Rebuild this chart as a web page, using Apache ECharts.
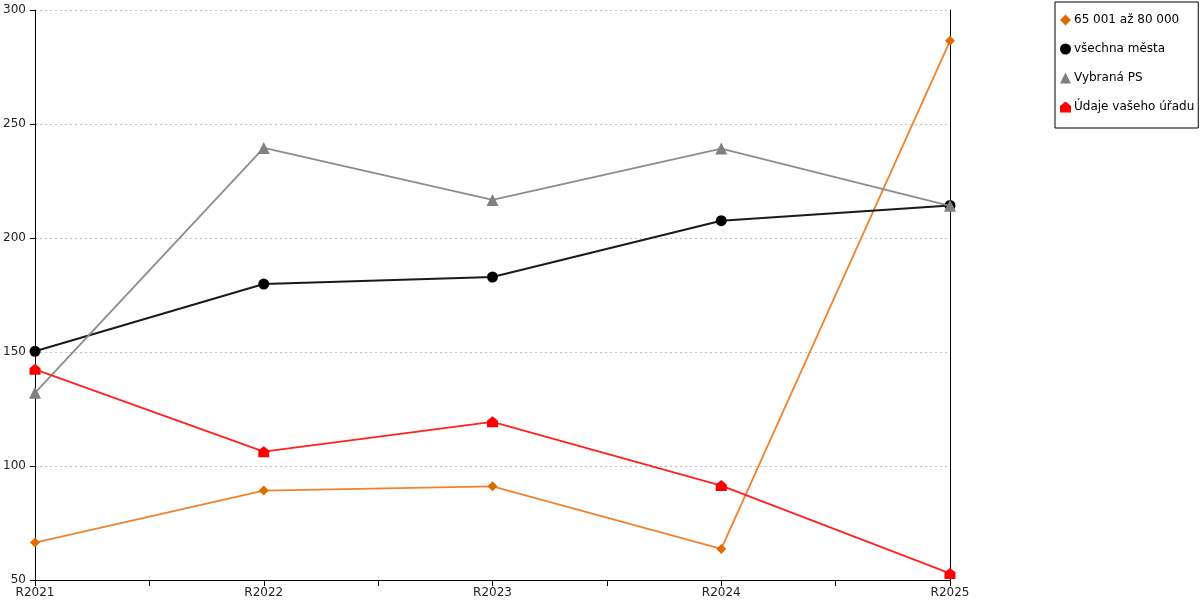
<!DOCTYPE html>
<html>
<head>
<meta charset="utf-8">
<script src="https://cdn.jsdelivr.net/npm/echarts@6/dist/echarts.min.js"></script>
<style>html,body{margin:0;padding:0;background:#fff}#c{width:1200px;height:600px}</style>
</head>
<body>
<div id="c"></div>
<script>
const categories = ['R2021', 'R2022', 'R2023', 'R2024', 'R2025'];
const yTicks = [50, 100, 150, 200, 250, 300];
const seriesNames = ['65 001 až 80 000', 'všechna města', 'Vybraná PS', 'Údaje vašeho úřadu'];
const orangeValues = [66.4, 89.2, 91.1, 63.6, 286.5];
const blackValues = [150.3, 179.8, 182.9, 207.6, 214.3];
const greyValues = [132.1, 239.5, 216.7, 239.2, 214.1];
const redValues = [142.4, 106.3, 119.4, 91.4, 52.9];

const FONT = 'DejaVu Sans';
const house = 'path://M0,4 L5,0 L10,4 L10,10 L0,10 Z';
const toPts = vals => vals.map((v, i) => [i, v]);

const defs = [
  {name: seriesNames[0], data: orangeValues, line: '#F0822D', mark: '#E06C00', symbol: 'diamond', size: 10, w: 1.8, z: 2},
  {name: seriesNames[1], data: blackValues, line: '#1a1a1a', mark: '#000000', symbol: 'circle', size: 11, w: 2, z: 3},
  {name: seriesNames[2], data: greyValues, line: '#8c8c8c', mark: '#808080', symbol: 'triangle', size: 12, w: 1.8, z: 4},
  {name: seriesNames[3], data: redValues, line: '#FF2020', mark: '#FF0000', symbol: house, size: 11, w: 1.8, z: 5}
];

const chart = echarts.init(document.getElementById('c'));
chart.setOption({
  animation: false,
  backgroundColor: '#fff',
  textStyle: {fontFamily: FONT},
  grid: {left: 35, right: 250, top: 10, bottom: 20, containLabel: false},
  legend: {
    orient: 'vertical',
    left: 1055,
    top: 2,
    padding: [12, 4, 15, 5],
    itemGap: 17,
    itemWidth: 11,
    itemHeight: 11,
    borderColor: '#000',
    borderWidth: 1,
    textStyle: {fontFamily: FONT, fontSize: 12, color: '#000', padding: [0, 0, 0, -2]},
    data: defs.map(d => ({name: d.name, icon: d.symbol, itemStyle: {color: d.mark}}))
  },
  xAxis: {
    type: 'value',
    min: 0,
    max: categories.length - 1,
    interval: 0.5,
    axisLine: {show: true, lineStyle: {color: '#000', width: 1}},
    axisTick: {show: true, length: 6, lineStyle: {color: '#000'}},
    axisLabel: {
      show: true,
      fontFamily: FONT,
      fontSize: 12,
      color: '#222',
      margin: 7,
      showMinLabel: true,
      showMaxLabel: true,
      formatter: v => Number.isInteger(v) ? categories[v] : ''
    },
    splitLine: {show: false}
  },
  yAxis: [{
    type: 'value',
    min: yTicks[0],
    max: yTicks[yTicks.length - 1],
    interval: 50,
    axisLine: {show: true, lineStyle: {color: '#000', width: 1}},
    axisTick: {show: true, inside: false, length: 5, lineStyle: {color: '#000'}},
    axisLabel: {fontFamily: FONT, fontSize: 12, color: '#222', margin: 9},
    splitLine: {show: true, lineStyle: {color: '#c0c0c0', type: [2, 3], width: 1}}
  }, {
    type: 'value',
    position: 'right',
    min: yTicks[0],
    max: yTicks[yTicks.length - 1],
    interval: 50,
    axisLine: {show: true, lineStyle: {color: '#000', width: 1}},
    axisTick: {show: false},
    axisLabel: {show: false},
    splitLine: {show: false}
  }],
  series: defs.map(d => ({
    name: d.name,
    type: 'line',
    data: toPts(d.data),
    symbol: d.symbol,
    symbolSize: d.size,
    showAllSymbol: true,
    z: d.z,
    lineStyle: {color: d.line, width: d.w},
    itemStyle: {color: d.mark, borderWidth: 0},
    emphasis: {disabled: true}
  }))
});
</script>
</body>
</html>
